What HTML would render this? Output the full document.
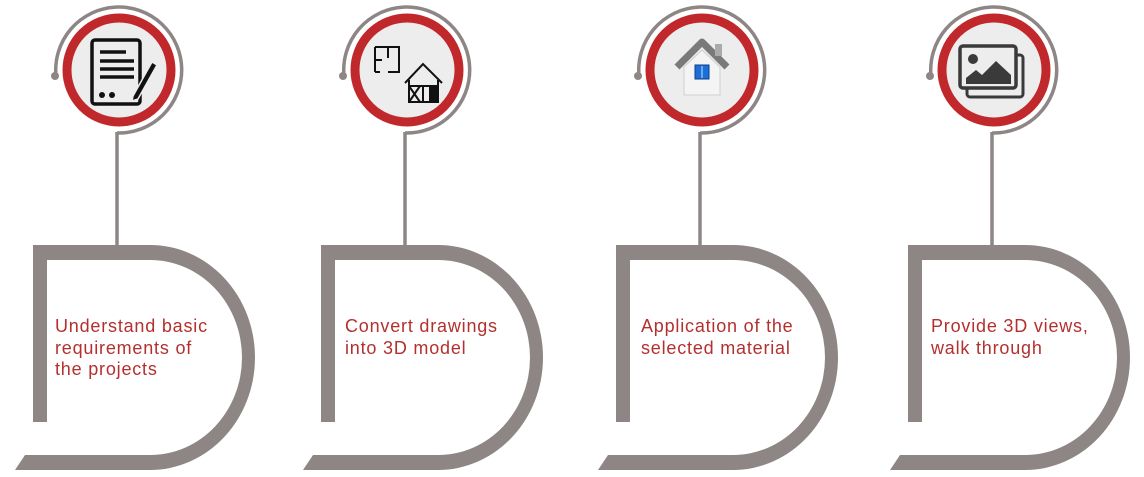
<!DOCTYPE html>
<html><head><meta charset="utf-8"><style>
html,body{margin:0;padding:0;background:#fff;width:1144px;height:477px;overflow:hidden}
svg text{font-family:"Liberation Sans",sans-serif;font-size:18px;letter-spacing:0.8px;fill:#b3302e}
</style></head><body>
<svg width="1144" height="477" viewBox="0 0 1144 477" xmlns="http://www.w3.org/2000/svg">
<defs>
<g id="frame">
  <path d="M33,422 L33,245 L150,245 A105,112.5 0 0 1 150,470 L15,470 L25,455 L150,455 A92,97.5 0 0 0 150,260 L47,260 L47,422 Z" fill="#8e8685"/>
  <line x1="117" y1="132" x2="117" y2="246" stroke="#8e8685" stroke-width="3.5"/>
  <path d="M56,76 A63,63 0 1 1 117,133" fill="none" stroke="#8e8685" stroke-width="3.5"/>
  <circle cx="55" cy="76" r="4" fill="#8e8685"/>
  <circle cx="119" cy="70" r="52" fill="#eeeded" stroke="#c1282b" stroke-width="9"/>
</g>
</defs>

<use href="#frame"/>
<use href="#frame" transform="translate(288,0)"/>
<use href="#frame" transform="translate(583,0)"/>
<use href="#frame" transform="translate(875,0)"/>

<!-- icon 1 -->
<g fill="none" stroke="#111" stroke-width="3.5">
  <rect x="92" y="40" width="48" height="64" rx="3"/>
  <line x1="100" y1="52" x2="126" y2="52"/>
  <line x1="100" y1="61" x2="134" y2="61"/>
  <line x1="100" y1="69" x2="134" y2="69"/>
  <line x1="100" y1="77" x2="134" y2="77"/>
</g>
<circle cx="102" cy="95" r="3" fill="#111"/><circle cx="112" cy="95" r="3" fill="#111"/>
<path d="M133,96 L152,62 L157,65 L138,99 L132,101 Z" fill="#111" stroke="#eeeded" stroke-width="1.5"/>

<!-- icon 2 -->
<g fill="none" stroke="#111" stroke-width="2">
  <path d="M375,47 L399,47 L399,72 L388,72 M380,72 L375,72 Z M375,47 L375,72 M375,60 L382,60 M388,47 L388,58"/>
  <path d="M405,83 L423,64 L442,83 M409,80 L409,102 L438,102 L438,80 M409,86 L438,86 M409,86 L420,102 M420,86 L409,102 M423,86 L423,102"/>
</g>
<rect x="429" y="87" width="9" height="15" fill="#111"/>

<!-- icon 3 -->
<path d="M677,67 L702,42 L727,67" fill="none" stroke="#7a7a7a" stroke-width="7" stroke-linejoin="round"/>
<rect x="715" y="44" width="7" height="12" fill="#aaa"/>
<path d="M684,67 L702,50 L720,67 L720,95 L684,95 Z" fill="#f4f4f4" stroke="#cfcfcf"/>
<rect x="695" y="65" width="14" height="14" fill="#1c6fd6" stroke="#0c3f8a"/>
<line x1="702" y1="66" x2="702" y2="78" stroke="#bfe0ff"/>

<!-- icon 4 -->
<rect x="967" y="55" width="56" height="42" rx="3" fill="none" stroke="#3a3a3a" stroke-width="3"/>
<rect x="960" y="46" width="56" height="42" rx="3" fill="#eeeded" stroke="#3a3a3a" stroke-width="3.5"/>
<circle cx="973" cy="59" r="5" fill="#3a3a3a"/>
<path d="M966,84 L966,78 L976,70 L982,75 L996,61 L1011,75 L1011,84 Z" fill="#3a3a3a"/>

<text x="55" y="332">Understand basic</text>
<text x="55" y="354">requirements of</text>
<text x="55" y="375">the projects</text>
<text x="345" y="332">Convert drawings</text>
<text x="345" y="354">into 3D model</text>
<text x="641" y="332">Application of the</text>
<text x="641" y="354">selected material</text>
<text x="931" y="332">Provide 3D views,</text>
<text x="931" y="354">walk through</text>
</svg>
</body></html>
